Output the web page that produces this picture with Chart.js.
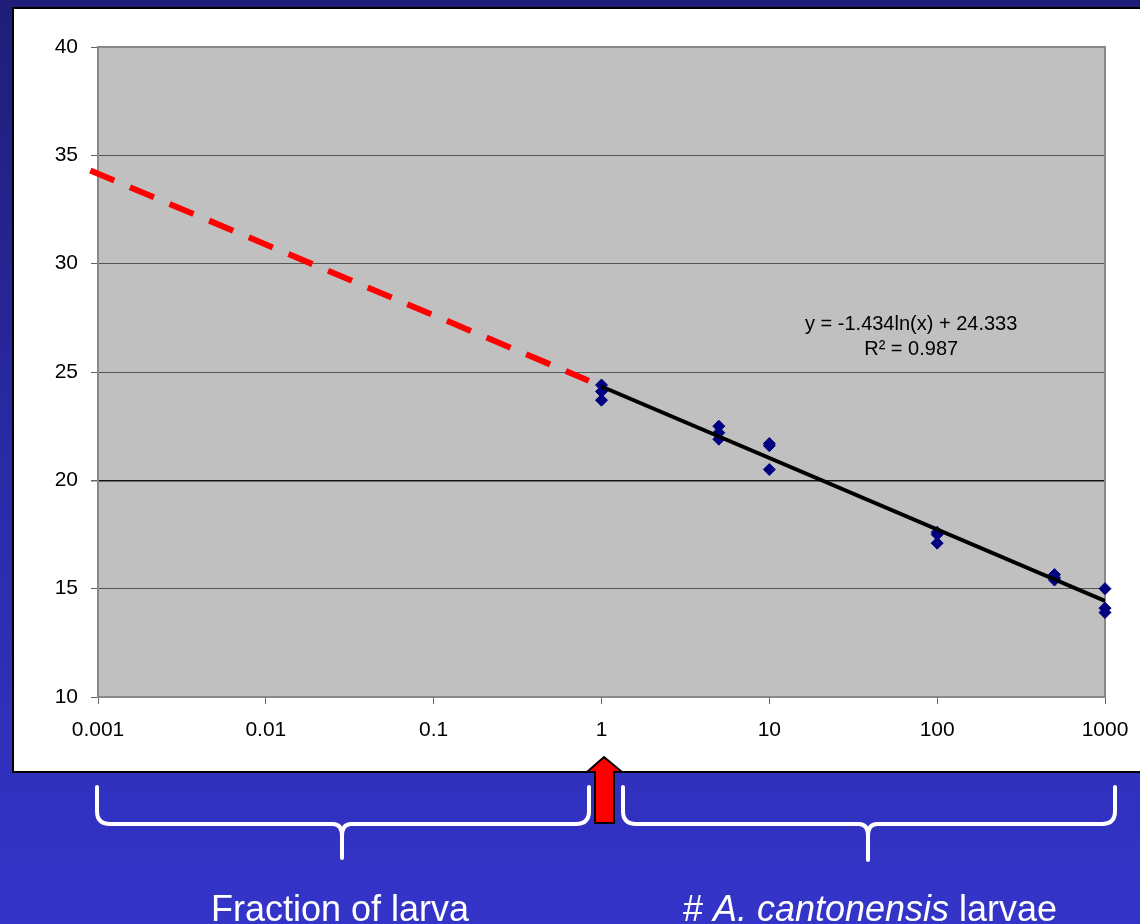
<!DOCTYPE html>
<html lang="en">
<head>
    <meta charset="UTF-8">
    <title>Ct vs larvae</title>
    <script src="https://cdn.jsdelivr.net/npm/chart.js"></script>
    <style>
        html, body { margin: 0; padding: 0; }
        body {
            width: 1140px; height: 924px; overflow: hidden; position: relative;
            background: linear-gradient(to bottom, #1e1e78 0%, #2a2aa6 50%, #3434c9 100%);
            font-family: "Liberation Sans", Arial, sans-serif;
        }
        #panel {
            position: absolute; left: 12px; top: 7px; width: 1132px; height: 766px;
            box-sizing: border-box; background: #fff;
            border: 2px solid #000; border-right: none;
        }
        #chart { position: absolute; left: 0; top: 0; }
        #overlay { position: absolute; left: 0; top: 0; }
        .caption {
            position: absolute; top: 891px; width: 440px; text-align: center;
            color: #fff; font-size: 36px; line-height: 36px; white-space: nowrap;
        }
    </style>
</head>
<body>
    <div id="panel"></div>
    <canvas id="chart" width="1140" height="780"></canvas>

    <svg id="overlay" width="1140" height="924">
        <g fill="none" stroke="#fff" stroke-width="4" stroke-linecap="round" stroke-linejoin="round">
            <!-- left brace -->
            <path d="M97 787 L97 811 Q97 824 110 824 L333 824 Q342 824 342 836 L342 858 M342 836 Q342 824 351 824 L576 824 Q589 824 589 811 L589 787"/>
            <!-- right brace -->
            <path d="M623 787 L623 811 Q623 824 636 824 L859 824 Q868 824 868 836 L868 860 M868 836 Q868 824 877 824 L1102 824 Q1115 824 1115 811 L1115 787"/>
        </g>
        <polygon points="604,757 622,772 614,772 614,823 595,823 595,772 587,772"
                 fill="#ff0000" stroke="#000" stroke-width="2" stroke-linejoin="miter"/>
    </svg>

    <div class="caption" style="left:120px;">Fraction of larva</div>
    <div class="caption" style="left:650px;"># <i>A. cantonensis</i> larvae</div>

    <script>
        // Ct values per larvae count (3 replicates each)
        const larvae = [1, 1, 1, 5, 5, 5, 10, 10, 10, 100, 100, 100, 500, 500, 500, 1000, 1000, 1000];
        const ctValues = [24.4, 24.1, 23.7, 22.5, 22.2, 21.9, 21.7, 21.6, 20.5, 17.6, 17.5, 17.1, 15.65, 15.5, 15.4, 15.0, 14.1, 13.9];

        // trendline y = -1.434ln(x) + 24.333, end points
        const trendX = [1, 1000];
        const trendY = [24.33, 14.43];

        // red dashed extrapolation
        const extrapX = [0.0009, 0.84];
        const extrapY = [34.3, 24.6];

        const xTicks = [0.001, 0.01, 0.1, 1, 10, 100, 1000];
        const xTickLabels = ['0.001', '0.01', '0.1', '1', '10', '100', '1000'];
        const yTicks = [10, 15, 20, 25, 30, 35, 40];

        const eqnLines = ['y = -1.434ln(x) + 24.333', 'R\u00b2 = 0.987'];

        const toPoints = (xs, ys) => xs.map((x, i) => ({x: x, y: ys[i]}));

        const plotBg = {
            id: 'plotBg',
            beforeDraw(chart) {
                const a = chart.chartArea, ctx = chart.ctx;
                ctx.save();
                ctx.fillStyle = '#c0c0c0';
                ctx.fillRect(a.left, a.top, a.right - a.left, a.bottom - a.top);
                ctx.restore();
            },
            beforeDatasetsDraw(chart) {
                const a = chart.chartArea, ctx = chart.ctx;
                ctx.save();
                ctx.strokeStyle = '#888';
                ctx.lineWidth = 2;
                ctx.beginPath();
                ctx.moveTo(a.left, a.top);
                ctx.lineTo(a.right, a.top);
                ctx.lineTo(a.right, a.bottom);
                ctx.stroke();
                ctx.restore();
            },
            afterDatasetsDraw(chart) {
                const ctx = chart.ctx;
                const x = chart.scales.x.getPixelForValue(70);
                const y = chart.scales.y.getPixelForValue(27.2);
                ctx.save();
                ctx.fillStyle = '#000';
                ctx.font = '20px "Liberation Sans", Arial, sans-serif';
                ctx.textAlign = 'center';
                ctx.textBaseline = 'middle';
                eqnLines.forEach((t, i) => ctx.fillText(t, x, y + i * 25));
                ctx.restore();
            }
        };

        new Chart(document.getElementById('chart'), {
            type: 'scatter',
            data: {
                datasets: [{
                    label: 'trend',
                    data: toPoints(trendX, trendY),
                    showLine: true,
                    borderColor: '#000',
                    borderWidth: 4,
                    pointRadius: 0
                }, {
                    label: 'extrapolation',
                    data: toPoints(extrapX, extrapY),
                    showLine: true,
                    borderColor: '#ff0000',
                    borderWidth: 6,
                    borderDash: [26, 17],
                    pointRadius: 0,
                    clip: false
                }, {
                    label: 'Ct',
                    data: toPoints(larvae, ctValues),
                    pointStyle: 'rectRot',
                    pointRadius: 6,
                    backgroundColor: '#000080',
                    borderColor: '#000080',
                    borderWidth: 1,
                    clip: false
                }]
            },
            options: {
                responsive: false,
                animation: false,
                layout: { padding: { top: 47, right: 35, left: 0, bottom: 0 } },
                plugins: { legend: { display: false }, tooltip: { enabled: false } },
                scales: {
                    x: {
                        type: 'logarithmic',
                        min: 0.001,
                        max: 1000,
                        afterFit(scale) {
                            scale.height = 83;
                            scale.paddingLeft = 0;
                            scale.paddingRight = 0;
                        },
                        afterBuildTicks(scale) { scale.ticks = xTicks.map(v => ({value: v})); },
                        ticks: {
                            color: '#000',
                            font: { family: '"Liberation Sans", Arial, sans-serif', size: 21 },
                            padding: 14,
                            maxRotation: 0,
                            autoSkip: false,
                            callback: (v, i) => xTickLabels[i]
                        },
                        grid: { drawOnChartArea: false, drawTicks: true, tickLength: 7, tickColor: '#666' },
                        border: { color: '#888', width: 2 }
                    },
                    y: {
                        min: 10,
                        max: 40,
                        afterFit(scale) { scale.width = 98; },
                        afterBuildTicks(scale) { scale.ticks = yTicks.map(v => ({value: v})); },
                        ticks: {
                            color: '#000',
                            font: { family: '"Liberation Sans", Arial, sans-serif', size: 21 },
                            padding: 13
                        },
                        grid: {
                            color: ctx => ctx.tick && ctx.tick.value === 20 ? '#111' : (ctx.tick && ctx.tick.value === 40 ? '#888' : '#555'),
                            lineWidth: ctx => ctx.tick && ctx.tick.value === 20 ? 1.5 : 1,
                            tickLength: 7,
                            tickColor: '#666'
                        },
                        border: { color: '#888', width: 2 }
                    }
                }
            },
            plugins: [plotBg]
        });
    </script>
</body>
</html>
